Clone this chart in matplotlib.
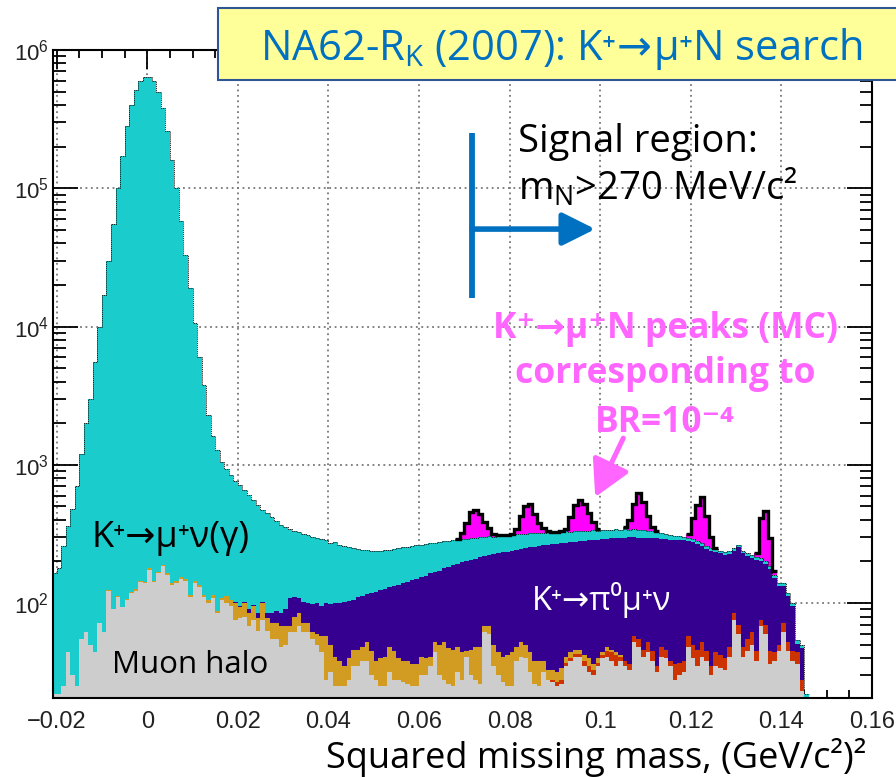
import numpy as np
import matplotlib
matplotlib.use("Agg")
import matplotlib.pyplot as plt
from matplotlib.patches import Rectangle
from matplotlib.ticker import MultipleLocator, LogLocator, NullFormatter, FuncFormatter

# Histogram binning: 1 MeV^2-ish bins, (GeV/c^2)^2
bin_edges = np.round(np.linspace(-0.021, 0.146, 168), 4)

# --- per-bin counts (stacked from bottom to top) ---
muon_halo = [
    22, 22, 25, 44, 30, 25, 55, 62, 50, 44,
    72, 62, 123, 90, 110, 93, 105, 118, 123, 141,
    140, 174, 141, 165, 185, 160, 135, 140, 150, 145,
    110, 140, 130, 110, 100, 108, 85, 105, 100, 95,
    75, 78, 80, 68, 75, 63, 75, 63, 55, 55,
    48, 50, 62, 62, 68, 62, 62, 55, 50, 44,
    28, 32, 25, 25, 25, 28, 35, 35, 38, 38,
    30, 28, 25, 25, 32, 28, 28, 27, 26, 25,
    25, 30, 30, 35, 44, 30, 28, 26, 25, 32,
    28, 41, 30, 28, 26, 62, 60, 35, 30, 27,
    25, 25, 38, 41, 40, 32, 26, 25, 32, 28,
    27, 25, 26, 35, 38, 41, 41, 35, 32, 30,
    35, 40, 41, 38, 35, 38, 35, 33, 52, 48,
    41, 44, 38, 32, 41, 40, 35, 28, 30, 32,
    48, 40, 35, 41, 38, 30, 35, 34, 33, 41,
    75, 60, 41, 45, 50, 38, 68, 60, 36, 38,
    45, 62, 45, 38, 36, 23, 0]

k_pipi0 = [0] * 110 + [
    1, 2, 2, 2, 2, 2, 2, 3, 3, 3,
    2, 2, 4, 6, 7, 3, 3, 3, 6, 7,
    5, 8, 7, 3, 7, 6, 3, 8, 7, 6,
    10, 10, 11, 11, 7, 5, 9, 8, 7, 7,
    10, 10, 7, 10, 12, 7, 7, 10, 9, 6,
    5, 10, 7, 7, 8, 5, 0]

k_3pi = [
    0, 0, 0, 0, 0, 0, 0, 0, 0, 0,
    0, 0, 2, 1, 2, 1, 2, 2, 3, 3,
    3, 4, 3, 4, 5, 4, 4, 4, 5, 5,
    4, 5, 5, 5, 5, 6, 3, 3, 12, 10,
    25, 15, 20, 17, 20, 15, 25, 15, 17, 17,
    20, 18, 6, 18, 17, 10, 10, 7, 10, 14,
    30, 18, 16, 13, 10, 12, 11, 11, 10, 14,
    15, 10, 15, 16, 16, 17, 12, 11, 12, 11,
    11, 11, 10, 6, 8, 20, 24, 21, 21, 16,
    16, 4, 16, 20, 22, 6, 8, 15, 14, 14,
    17, 19, 10, 11, 10, 12, 12, 13, 6, 5,
    5, 5, 6, 4, 4, 3, 3, 4, 5, 3,
    3, 2, 3, 2, 2, 1, 0, 0, 0, 0] + [0] * 37

k_mu3 = [0] * 40 + [
    2, 2, 2, 5, 2, 7, 2, 7, 13, 16,
    17, 22, 40, 30, 23, 30, 28, 36, 40, 38,
    42, 48, 59, 62, 67, 64, 60, 64, 64, 64,
    73, 82, 84, 86, 82, 88, 96, 102, 104, 110,
    114, 113, 118, 124, 116, 122, 126, 136, 142, 144,
    153, 155, 159, 162, 166, 152, 156, 176, 186, 192,
    194, 196, 195, 194, 200, 209, 218, 220, 224, 231,
    233, 236, 236, 232, 231, 231, 234, 240, 244, 250,
    248, 246, 244, 248, 252, 255, 260, 264, 242, 243,
    251, 244, 250, 259, 244, 244, 250, 252, 249, 247,
    222, 226, 221, 206, 201, 204, 190, 187, 184, 179,
    154, 183, 181, 165, 150, 160, 127, 121, 131, 108,
    83, 61, 60, 50, 7, 19, 21]

k_mu2 = [
    143, 158, 235, 316, 450, 675, 1145, 1940, 2950, 5460,
    9930, 16900, 29900, 54900, 99900, 170000, 280000, 400000, 510000, 600000,
    640000, 640000, 600000, 500000, 380000, 260000, 160000, 99900, 57800, 32800,
    18900, 10400, 5870, 3690, 2200, 1490, 1190, 940, 820, 745,
    668, 625, 558, 520, 463, 425, 373, 365, 335, 307,
    285, 268, 237, 225, 218, 216, 210, 204, 196, 194,
    186, 172, 175, 165, 158, 151, 144, 138, 132, 126,
    122, 118, 116, 117, 112, 114, 114, 114, 113, 112,
    112, 111, 110, 105, 106, 106, 102, 100, 98, 96,
    93, 92, 90, 88, 86, 82, 81, 77, 77, 77,
    74, 73, 72, 72, 66, 67, 66, 62, 61, 61,
    61, 57, 58, 57, 53, 53, 55, 51, 51, 52,
    47, 48, 48, 44, 46, 43, 45, 40, 45, 42,
    41, 39, 35, 31, 30, 28, 24, 20, 19, 15,
    15, 14, 13, 12, 12, 11, 11, 11, 11, 11,
    11, 12, 11, 10, 10, 10, 10, 9, 9, 8,
    7, 7, 6, 5, 3, 3, 1]

# HNL MC peaks (BR = 1e-4), excess on top of the background
hnl_peaks = [0] * 89 + [5] + [
    30, 90, 160, 170, 140, 85, 45, 15, 5, 2,
    2, 2, 30, 110, 190, 200, 120, 60, 25, 5,
    2, 2, 3, 15, 90, 180, 225, 190, 110, 45,
    8, 0, 0, 0, 0, 0, 10, 60, 180, 290,
    200, 90, 25, 5, 0, 0, 0, 0, 0, 0,
    20, 120, 230, 320, 170, 50, 5, 0, 0, 0,
    0, 0, 0, 0, 0, 15, 200, 265, 110, 10,
    0, 0, 0, 0, 0, 0, 0]

layers = [muon_halo, k_pipi0, k_3pi, k_mu3, k_mu2, hnl_peaks]
layer_colors = ['#CDCDCD', '#CC3300', '#D29B22', '#35008F', '#1ACCCC', '#FF00FF']

plt.rcParams['font.family'] = ['Open Sans', 'DejaVu Sans']
plt.rcParams['mathtext.fontset'] = 'dejavusans'

W, H = 896, 777
fig = plt.figure(figsize=(W / 100, H / 100), dpi=100)
ax = fig.add_axes([53 / W, 1 - 698 / H, 819 / W, 648 / H])
ax.set_yscale('log')

stack = np.cumsum(np.array(layers, dtype=float), axis=0)
bottom = np.ones(len(muon_halo))
for top, col in zip(stack, layer_colors):
    ax.stairs(top, bin_edges, baseline=bottom, fill=True, color=col, lw=0, zorder=2)
    bottom = top

background = stack[4]
ax.stairs(background, bin_edges, baseline=None, color='#111111', lw=0.6,
          linestyle=(0, (1.5, 1)), zorder=3)

# thick black outline of signal+background where the MC peaks sit
signal = np.array(hnl_peaks)
on = np.flatnonzero(signal > 0)
runs = np.split(on, np.flatnonzero(np.diff(on) > 1) + 1)
for r in runs:
    i0, i1 = r[0], r[-1] + 1
    ax.stairs(stack[5][i0:i1], bin_edges[i0:i1 + 1], baseline=None,
              color='black', lw=2.4, zorder=4)

ax.set_xlim(-0.0208, 0.16)
ax.set_ylim(20.6, 1e6)
ax.xaxis.set_major_locator(MultipleLocator(0.02))
ax.xaxis.set_minor_locator(MultipleLocator(0.005))
ax.xaxis.set_major_formatter(FuncFormatter(lambda v, p: f"{round(v, 6):g}".replace('-', '\u2212')))
ax.yaxis.set_major_locator(LogLocator(base=10))
ax.yaxis.set_minor_locator(LogLocator(base=10, subs=np.arange(2, 10)))
ax.yaxis.set_minor_formatter(NullFormatter())

ax.grid(True, which='major', color='#777777', linestyle=(0, (1, 2)), lw=1.3)
ax.set_axisbelow(True)
for s in ax.spines.values():
    s.set_linewidth(1.5)
ax.tick_params(which='both', direction='in', top=True, right=True, width=1.3,
               labelcolor='#222222', labelfontfamily='Liberation Sans')
ax.tick_params(axis='x', which='major', length=14, labelsize=17, pad=9)
ax.tick_params(axis='x', which='minor', length=6)
ax.tick_params(axis='y', which='major', length=18, labelsize=16, pad=3)
ax.tick_params(axis='y', which='minor', length=9)

# signal region marker
blue = '#0070C0'
ax.plot([0.0717, 0.0717], [1.61e4, 2.5e5], color=blue, lw=4.2, solid_capstyle='butt', zorder=5)
ax.annotate('', xy=(0.0989, 5.07e4), xytext=(0.0717, 5.07e4),
            arrowprops=dict(arrowstyle='-|>,head_length=1.0,head_width=0.5', color=blue,
                            lw=4, shrinkA=0, shrinkB=0, mutation_scale=20), zorder=5)
ax.text(0.5678, 0.8426, 'Signal region:', transform=ax.transAxes, fontsize=27.5,
        va='baseline', ha='left', zorder=6)
ax.text(0.5678, 0.7685, r'm$_\mathregular{N}$>270 MeV/c²', transform=ax.transAxes,
        fontsize=27.5, va='baseline', ha='left', zorder=6)

# MC peak annotation
pink = '#FF66FF'
for txt, fy in [('K⁺→μ⁺N peaks (MC)', 0.5556), ('corresponding to', 0.4861), ('BR=10⁻⁴', 0.4105)]:
    ax.text(0.7473, fy, txt, transform=ax.transAxes, fontsize=25.5, fontweight='bold',
            color=pink, ha='center', va='baseline', zorder=6)
ax.annotate('', xy=(0.0989, 585), xytext=(0.1051, 1560),
            arrowprops=dict(arrowstyle='-|>,head_length=1.0,head_width=0.55', color=pink,
                            lw=3.6, shrinkA=0, shrinkB=0, mutation_scale=22), zorder=5)

# component labels
ax.text(0.0476, 0.2330, 'K⁺→μ⁺ν(γ)', transform=ax.transAxes, fontsize=26,
        va='baseline', zorder=6)
ax.text(0.0720, 0.0386, 'Muon halo', transform=ax.transAxes, fontsize=22.5,
        va='baseline', zorder=6)
ax.text(0.5849, 0.1358, 'K⁺→π⁰μ⁺ν', transform=ax.transAxes, fontsize=23.5,
        color='white', va='baseline', zorder=6)

# axis title, right aligned under the axis
fig.text(866 / W, 1 - 768 / H, 'Squared missing mass, (GeV/c²)²', fontsize=26,
         ha='right', va='baseline')

# yellow title box sitting over the top edge
fig.add_artist(Rectangle((218 / W, 1 - 80 / H), 0.8, 72 / H, transform=fig.transFigure,
                         facecolor='#FFFF99', edgecolor='#2F5597', lw=1.5, zorder=10))
fig.text(260 / W, 1 - 60 / H,
         r'NA62-R$_\mathregular{K}$ (2007): K⁺$\!\rightarrow\!$μ⁺N search',
         fontsize=30, color=blue, ha='left', va='baseline', zorder=11)

fig.savefig('out.png', dpi=100)
